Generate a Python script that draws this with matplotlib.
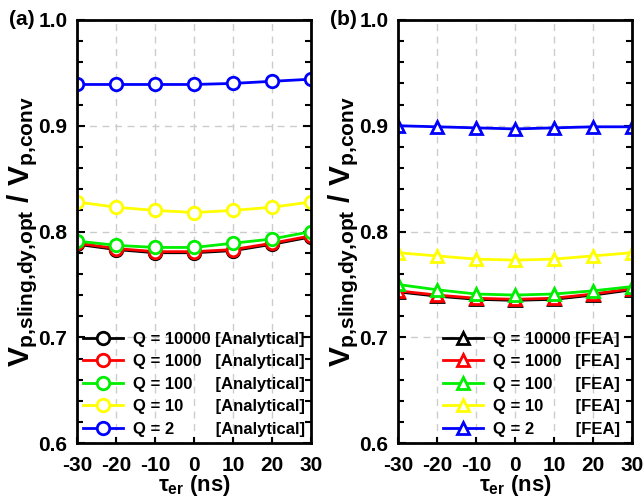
import matplotlib
matplotlib.use("Agg")
from matplotlib import pyplot as plt
from matplotlib.ticker import MultipleLocator

plt.rcParams['font.family'] = ['Liberation Sans', 'DejaVu Sans']
plt.rcParams['font.weight'] = 'bold'
plt.rcParams['axes.unicode_minus'] = False
plt.rcParams['mathtext.fontset'] = 'custom'
plt.rcParams['mathtext.rm'] = 'Liberation Sans:bold'
plt.rcParams['mathtext.bf'] = 'Liberation Sans:bold'
plt.rcParams['mathtext.it'] = 'Liberation Sans:bold'

tau = [-30, -20, -10, 0, 10, 20, 30]
q_labels = ['Q = 10000', 'Q = 1000', 'Q = 100', 'Q = 10', 'Q = 2']
pads = [' ', '   ', '     ', '       ', '         ']
colors = ['black', 'red', '#00ee00', '#ffff00', '#0000ff']

# panel (a): analytical
ana_10000 = [0.788, 0.783, 0.780, 0.780, 0.782, 0.788, 0.795]
ana_1000 = [0.789, 0.784, 0.781, 0.781, 0.783, 0.789, 0.796]
ana_100 = [0.791, 0.787, 0.785, 0.785, 0.789, 0.793, 0.800]
ana_10 = [0.828, 0.823, 0.820, 0.818, 0.820, 0.823, 0.828]
ana_2 = [0.939, 0.939, 0.939, 0.939, 0.940, 0.942, 0.944]

# panel (b): FEA
fea_10000 = [0.743, 0.739, 0.736, 0.735, 0.736, 0.740, 0.745]
fea_1000 = [0.744, 0.740, 0.737, 0.736, 0.737, 0.741, 0.746]
fea_100 = [0.750, 0.745, 0.741, 0.740, 0.741, 0.744, 0.748]
fea_10 = [0.780, 0.777, 0.774, 0.773, 0.774, 0.777, 0.780]
fea_2 = [0.900, 0.899, 0.898, 0.897, 0.898, 0.899, 0.899]

fig = plt.figure(figsize=(6.43, 4.98), dpi=100)
ax_a = fig.add_axes([0.120, 0.110, 0.364, 0.850])
ax_b = fig.add_axes([0.619, 0.110, 0.364, 0.850])

panels = [
    (ax_a, [ana_10000, ana_1000, ana_100, ana_10, ana_2], 'o', '[Analytical]', '(a)', 1.0),
    (ax_b, [fea_10000, fea_1000, fea_100, fea_10, fea_2], '^', '[FEA]', '(b)', 0.975),
]

for ax, series, mk, tag, plabel, lx in panels:
    for vals, lab, pad, c in zip(series, q_labels, pads, colors):
        ax.plot(tau, vals, color=c, marker=mk, markersize=9, markerfacecolor='white',
                markeredgecolor=c, markeredgewidth=2, linewidth=2, label=lab + pad + tag)
    ax.set_xlim(-30, 30)
    ax.set_ylim(0.6, 1.0)
    ax.xaxis.set_major_locator(MultipleLocator(10))
    ax.yaxis.set_major_locator(MultipleLocator(0.1))
    ax.yaxis.set_minor_locator(MultipleLocator(0.02))
    ax.grid(True, which='major', linestyle=(0, (5, 4)), color='#cccccc', linewidth=1)
    ax.set_axisbelow(True)
    ax.tick_params(axis='y', which='both', direction='in', left=True, right=True,
                   width=1.5, labelsize=15, pad=7)
    ax.tick_params(axis='y', which='major', length=6)
    ax.tick_params(axis='y', which='minor', length=4)
    ax.tick_params(axis='x', which='major', direction='in', length=4, width=1.5,
                   labelsize=15, pad=9)
    ax.set_yticks([0.6, 0.7, 0.8, 0.9, 1.0])
    ax.set_yticklabels(['0.6', '0.7', '0.8', '0.9', '1.0'])
    for sp in ax.spines.values():
        sp.set_linewidth(2)
    ax.set_xlabel(r'$\tau_{er}$ (ns)', fontsize=16, fontweight='bold', labelpad=-1)
    ax.set_ylabel(r'$V_{p{,}sling{,}dy{,}opt}$ / $V_{p{,}conv}$', fontsize=21.5,
                  fontweight='bold', labelpad=-1)
    ax.legend(loc='lower right', bbox_to_anchor=(lx, 0), frameon=False,
              handlelength=2.4, handletextpad=0.6, labelspacing=0.45, borderpad=0.1,
              borderaxespad=0.3, prop={'weight': 'bold', 'size': 12})
    ax.text(-0.29, 1.0, plabel, transform=ax.transAxes, fontsize=15,
            fontweight='bold', va='center', ha='left')

fig.savefig('out.png', dpi=100)
